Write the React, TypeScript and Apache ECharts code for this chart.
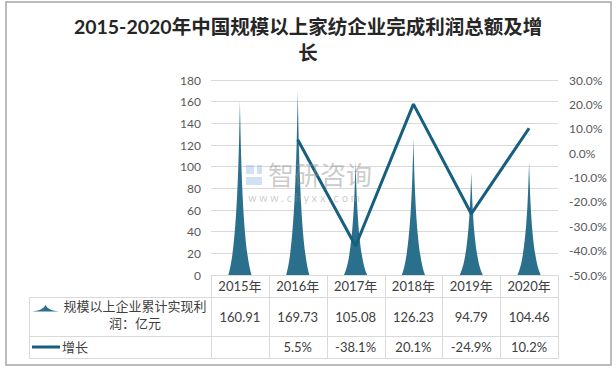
import React, { useEffect, useRef } from 'react';
import * as echarts from 'echarts';

const TITLE = '2015-2020年中国规模以上家纺企业完成利润总额及增\n长';
const categories = ['2015年', '2016年', '2017年', '2018年', '2019年', '2020年'];
const profit = [160.91, 169.73, 105.08, 126.23, 94.79, 104.46];
const growth: (number | null)[] = [null, 5.5, -38.1, 20.1, -24.9, 10.2];
const profitName = '规模以上企业累计实现利润：亿元';
const profitLegendLines = ['规模以上企业累计实现利', '润：亿元'];
const growthName = '增长';

const SPIKE = 'M0,10 C3.5,8.5 4.5,4 5,0 C5.5,4 6.5,8.5 10,10 Z';
echarts.graphic.registerShape('spike', echarts.graphic.extendPath(SPIKE, {}) as any);

const BAR_COLOR = '#2a6f8b';
const LINE_COLOR = '#175f7e';
const GRID_COLOR = '#d9d9d9';
const TEXT_COLOR = '#404040';
const FONT = "Lato, 'Noto Sans CJK SC', sans-serif";

export default function App() {
  const ref = useRef<HTMLDivElement>(null);
  useEffect(() => {
    document.body.style.margin = '0';
    const chart = echarts.init(ref.current!, null, { renderer: 'svg' });
    chart.setOption({
      animation: false,
      textStyle: { fontFamily: FONT },
      title: {
        text: TITLE,
        left: 'center',
        top: 8,
        textStyle: { fontSize: 19.5, fontWeight: 'bold', color: '#262626', lineHeight: 26, fontFamily: FONT },
      },
      grid: { left: 211, right: 58, top: 80, bottom: 95 },
      xAxis: {
        type: 'category',
        data: categories,
        axisLine: { lineStyle: { color: GRID_COLOR } },
        axisTick: { show: false },
        axisLabel: { show: false },
      },
      yAxis: [
        {
          type: 'value', min: 0, max: 180, interval: 20,
          axisLabel: { color: '#595959', fontSize: 12, margin: 10 },
          splitLine: { lineStyle: { color: GRID_COLOR } },
          axisLine: { show: false }, axisTick: { show: false },
        },
        {
          type: 'value', min: -50, max: 30, interval: 10, position: 'right',
          axisLabel: { color: '#595959', fontSize: 12, margin: 11, formatter: (v: number) => v.toFixed(1) + '%' },
          splitLine: { show: false }, axisLine: { show: false }, axisTick: { show: false },
        },
      ],
      series: [
        {
          type: 'pictorialBar', name: profitName, data: profit,
          symbol: 'path://' + SPIKE, symbolSize: [23, '100%'],
          itemStyle: { color: BAR_COLOR },
          z: 2,
        },
        {
          type: 'line', name: growthName, yAxisIndex: 1, data: growth,
          symbol: 'none', showSymbol: false,
          lineStyle: { width: 3, color: LINE_COLOR },
          z: 3,
        },
      ],
    });

    const n = categories.length;
    const xs = categories.map((_, i) => chart.convertToPixel({ xAxisIndex: 0 }, i) as number);
    const step = xs[1] - xs[0];
    const gl = Math.round(xs[0] - step / 2) + 0.5;
    const gr = Math.round(xs[n - 1] + step / 2) + 0.5;
    const y0 = Math.round(chart.convertToPixel({ yAxisIndex: 0 }, 0) as number);
    const hTop = y0 + 0.5;
    const hBot = y0 + 22.5;
    const r2Bot = y0 + 61.5;
    const r3Bot = y0 + 83.5;
    const tLeft = 29.5;
    const ln = (x1: number, y1: number, x2: number, y2: number) => ({
      type: 'line', silent: true,
      shape: { x1, y1, x2, y2 },
      style: { stroke: GRID_COLOR, lineWidth: 1 },
    });
    const txt = (x: number, y: number, s: string, align = 'center') => ({
      type: 'text', silent: true, x, y,
      style: { text: s, fill: TEXT_COLOR, fontSize: 13, fontFamily: FONT, align, verticalAlign: 'middle' },
    });
    const els: any[] = [];
    els.push(ln(gl, hBot, gr, hBot));
    els.push(ln(tLeft, hBot, gl, hBot));
    els.push(ln(tLeft, r2Bot, gr, r2Bot));
    els.push(ln(tLeft, r3Bot, gr, r3Bot));
    els.push(ln(tLeft, hBot, tLeft, r3Bot));
    for (let i = 0; i <= n; i++) {
      const x = i === 0 ? gl : i === n ? gr : Math.round(xs[i - 1] + step / 2) + 0.5;
      els.push(ln(x, hTop, x, r3Bot));
    }
    categories.forEach((c, i) => {
      els.push(txt(xs[i], y0 + 11, c));
      els.push(txt(xs[i], y0 + 42, profit[i].toFixed(2)));
      const g = growth[i];
      if (g !== null) els.push(txt(xs[i], y0 + 72, g.toFixed(1) + '%'));
    });
    els.push({
      type: 'spike', silent: true, x: 32, y: y0 + 30, scaleX: 2.7, scaleY: 0.65,
      style: { fill: BAR_COLOR },
    });
    els.push(txt(135, y0 + 31, profitLegendLines[0]));
    els.push(txt(135, y0 + 48, profitLegendLines[1]));
    els.push({
      type: 'line', silent: true,
      shape: { x1: 32, y1: y0 + 72, x2: 60, y2: y0 + 72 },
      style: { stroke: LINE_COLOR, lineWidth: 3 },
    });
    els.push(txt(62, y0 + 72, growthName, 'left'));
    // watermark
    const wmBlue = 'rgba(120,170,220,0.35)';
    els.push({ type: 'rect', silent: true, z: 10, shape: { x: 246, y: 165, width: 8, height: 9 }, style: { fill: wmBlue } });
    els.push({ type: 'rect', silent: true, z: 10, shape: { x: 246, y: 177, width: 16, height: 8 }, style: { fill: wmBlue } });
    els.push({ type: 'rect', silent: true, z: 10, shape: { x: 257, y: 165, width: 5, height: 9 }, style: { fill: wmBlue } });
    els.push({
      type: 'text', silent: true, z: 10, x: 268, y: 175,
      style: { text: '智研咨询', fill: 'rgba(140,140,140,0.45)', fontSize: 26, fontFamily: FONT, verticalAlign: 'middle' },
    });
    els.push({
      type: 'text', silent: true, z: 10, x: 248, y: 197,
      style: { text: 'w w w . c h y x x . c o m', fill: 'rgba(140,140,140,0.45)', fontSize: 11, fontFamily: FONT, verticalAlign: 'middle' },
    });
    els.push({
      type: 'rect', silent: true,
      shape: { x: 6, y: 2, width: 605, height: 363 },
      style: { fill: 'none', stroke: '#a6a6a6', lineWidth: 1.5 },
    });
    chart.setOption({ graphic: els });
    return () => chart.dispose();
  }, []);
  return <div ref={ref} style={{ width: 616, height: 370 }} />;
}
